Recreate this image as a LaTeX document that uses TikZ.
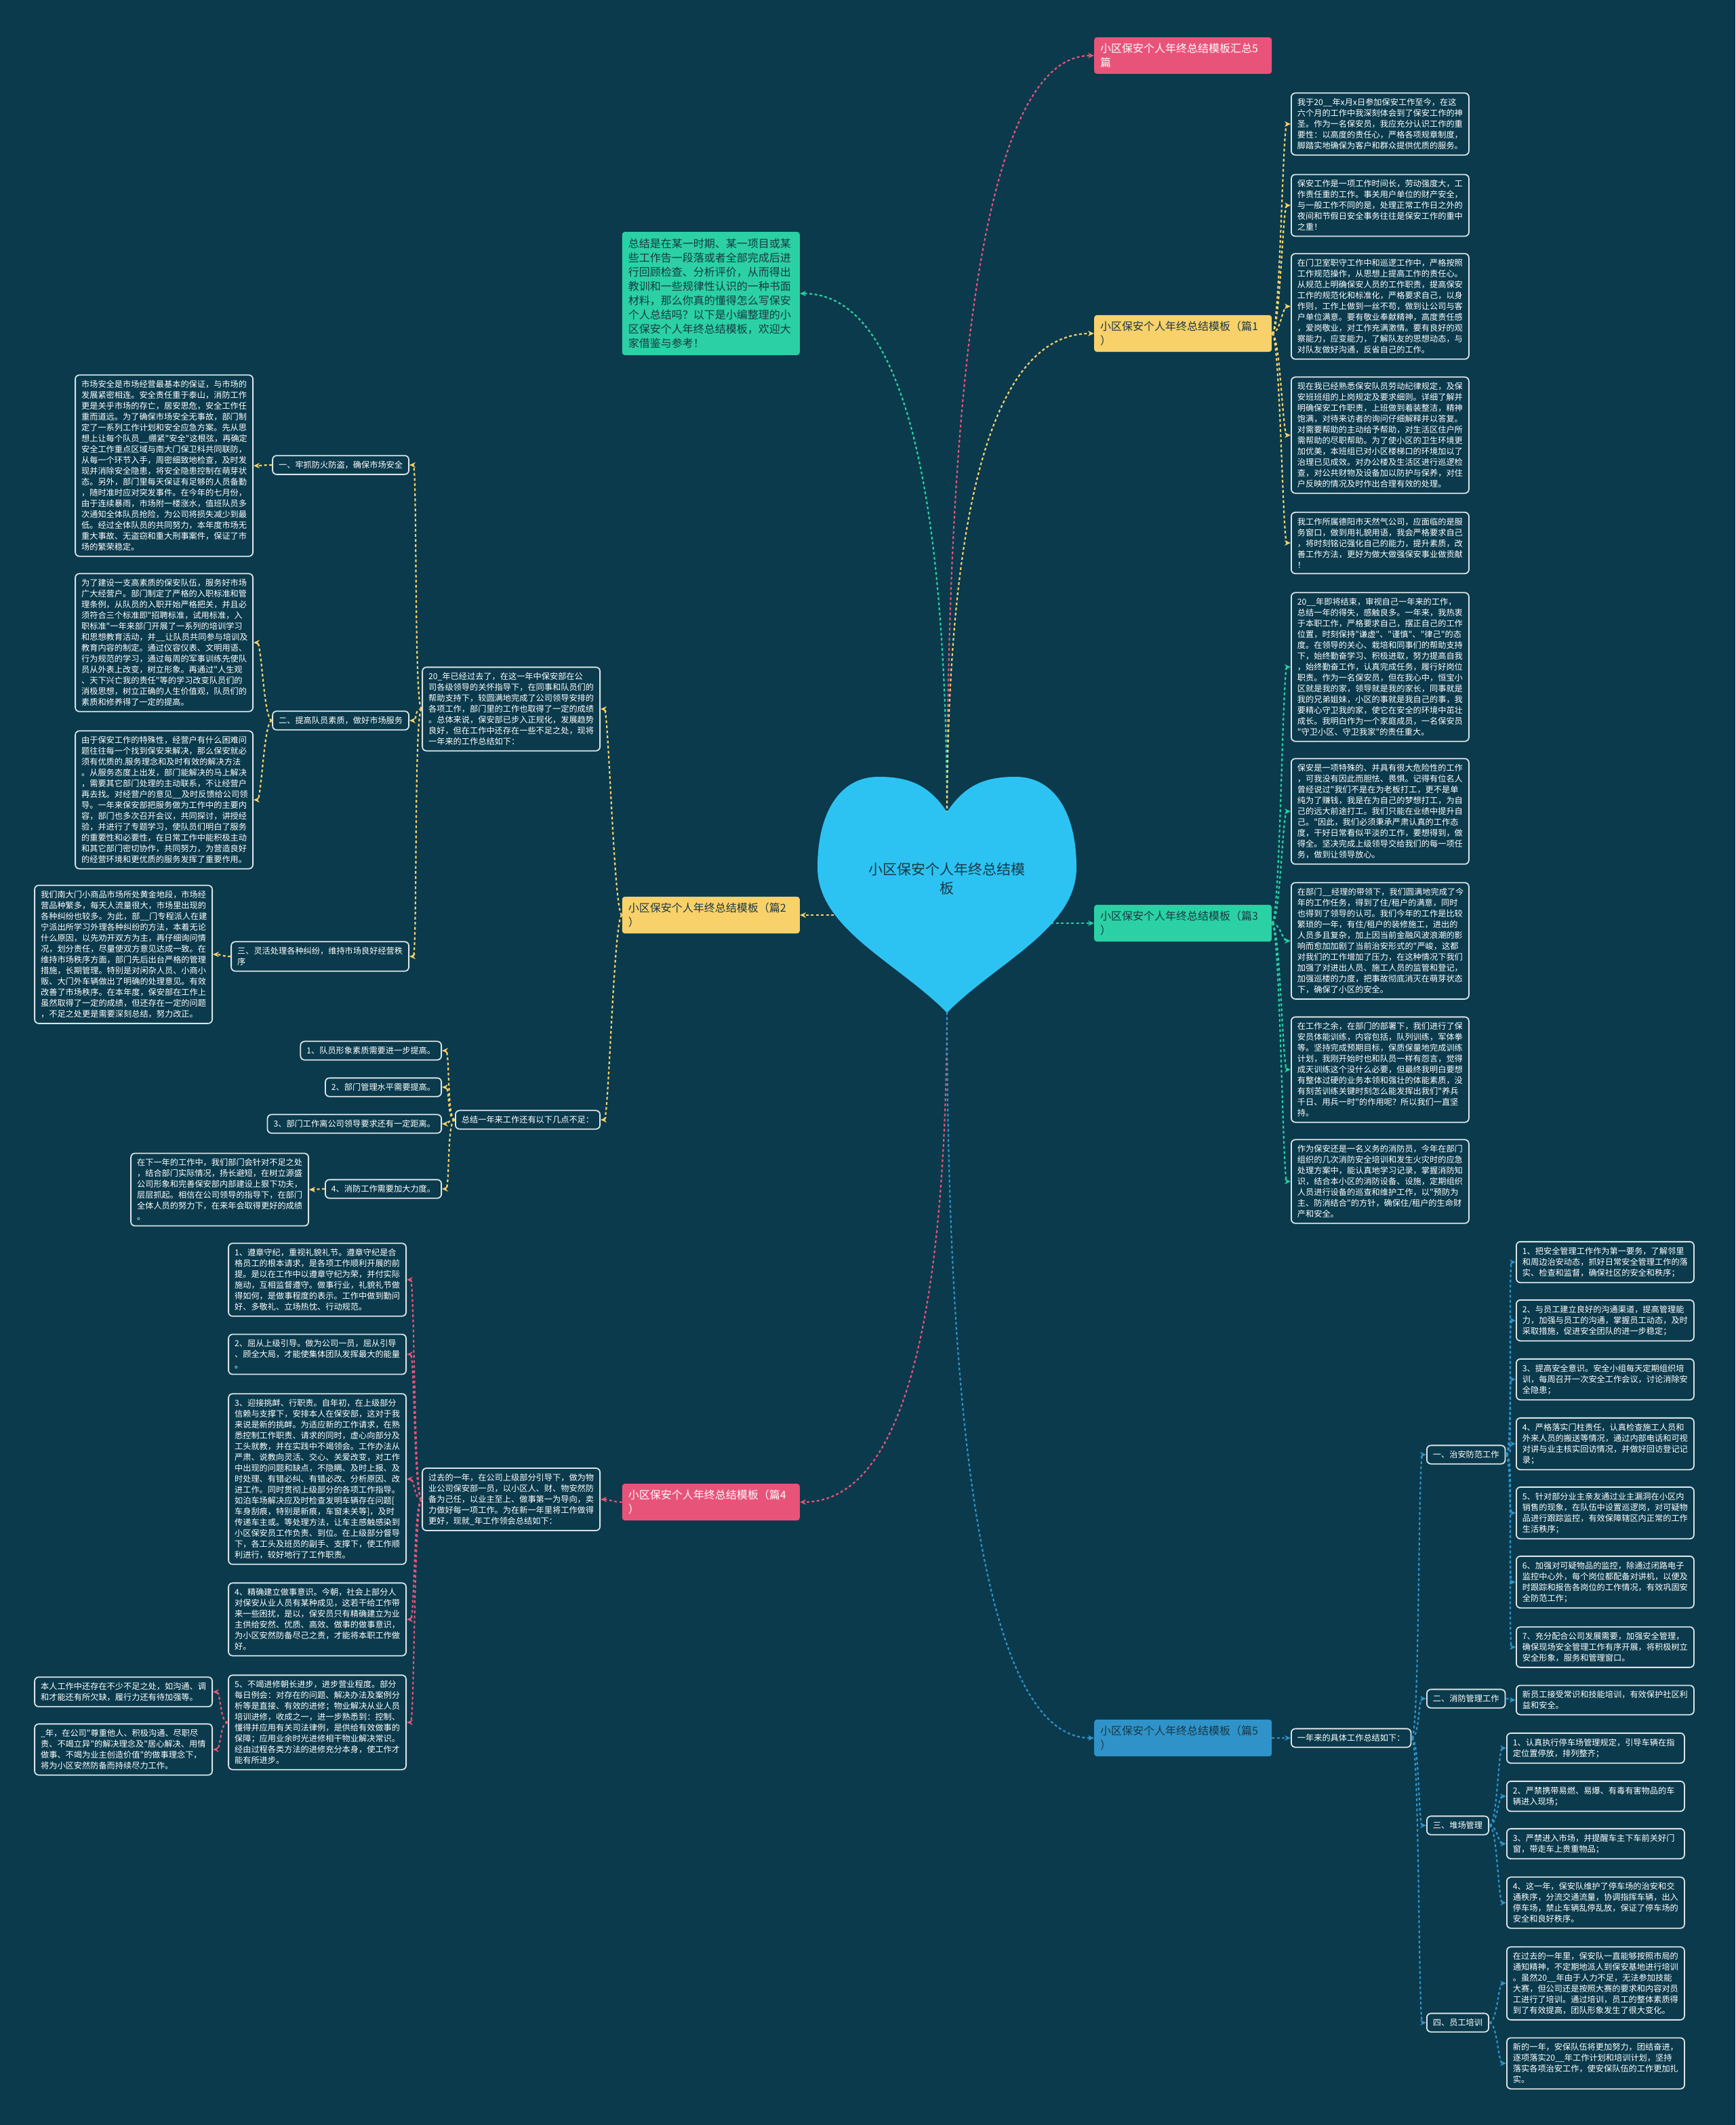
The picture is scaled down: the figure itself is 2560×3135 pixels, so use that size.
\documentclass[tikz,border=0pt]{standalone}
\usepackage{fontspec}
\newfontfamily\cjk{Noto Sans CJK SC}
\usetikzlibrary{arrows.meta,calc}
\definecolor{bg}{HTML}{0A3A4C}
\definecolor{boxline}{HTML}{DCE3E6}
\definecolor{cyel}{HTML}{F8D16A}
\definecolor{cpink}{HTML}{E8537A}
\definecolor{cgreen}{HTML}{2BD1A4}
\definecolor{cblue}{HTML}{2F93C9}
\definecolor{heartc}{HTML}{2CC3F3}
\definecolor{darktxt}{HTML}{183844}
\newcommand\qcurve[3]{\draw[con,#1] (#2) .. controls ($(#2)!0.667!(#2 |- #3)$) and ($(#3)!0.667!(#2 |- #3)$) .. (#3);}
\newcommand\rconn[3]{\draw[con,#1] (#2.east) .. controls +(12,0) and +(-12,0) .. (#3.west);}
\newcommand\lconn[3]{\draw[con,#1] (#2.west) .. controls +(-12,0) and +(12,0) .. (#3.east);}
\begin{document}
\begin{tikzpicture}[x=1pt,y=-1pt,
 box/.style={draw=boxline, line width=1.8pt, rounded corners=6pt, fill=bg, text=white, font=\cjk\fontsize{12.2}{16}\selectfont, inner xsep=9pt, inner ysep=8pt, align=left, text width=244pt},
 lab/.style={draw=boxline, line width=1.8pt, rounded corners=6pt, fill=bg, text=white, font=\cjk\fontsize{12.2}{16}\selectfont, inner xsep=9pt, inner ysep=8pt},
 ttl/.style={rounded corners=4pt, inner xsep=9pt, inner ysep=9pt, font=\cjk\fontsize{16}{21}\selectfont, text width=244pt, align=left},
 con/.style={dash pattern=on 4pt off 3.5pt, line width=2.2pt, -{Stealth[length=9pt,width=8pt]}},
]
\fill[bg] (0,0) rectangle (2560,3135);
\useasboundingbox (0,0) rectangle (2560,3135);

% heart anchor coordinates
\coordinate (hT) at (1397,1215);
\coordinate (hB) at (1397,1478);
\coordinate (hL) at (1245,1350);
\coordinate (hR) at (1550,1362);

% title nodes
\node[ttl, fill=cpink, text=white, anchor=west] (top) at (1614,82) {小区保安个人年终总结模板汇总5\\篇};
\node[ttl, fill=cyel, text=darktxt, anchor=west] (p1) at (1614,492) {小区保安个人年终总结模板（篇1\\）};
\node[ttl, fill=cgreen, text=darktxt, anchor=west] (p3) at (1614,1362) {小区保安个人年终总结模板（篇3\\）};
\node[ttl, fill=cblue, text=darktxt, anchor=west] (p5) at (1614,2564) {小区保安个人年终总结模板（篇5\\）};
\node[ttl, fill=cyel, text=darktxt, anchor=east] (p2) at (1180,1350) {小区保安个人年终总结模板（篇2\\）};
\node[ttl, fill=cpink, text=white, anchor=east] (p4) at (1180,2216) {小区保安个人年终总结模板（篇4\\）};
\node[ttl, fill=cgreen, text=darktxt, anchor=east, inner ysep=10pt] (intro) at (1180,433) {总结是在某一时期、某一项目或某\\些工作告一段落或者全部完成后进\\行回顾检查、分析评价，从而得出\\教训和一些规律性认识的一种书面\\材料，那么你真的懂得怎么写保安\\个人总结吗？以下是小编整理的小\\区保安个人年终总结模板，欢迎大\\家借鉴与参考！};

% Part 1
\node[box, anchor=west] (a1) at (1904,183) {我于20\_\_年x月x日参加保安工作至今，在这\\六个月的工作中我深刻体会到了保安工作的神\\圣。作为一名保安员，我应充分认识工作的重\\要性：以高度的责任心，严格各项规章制度，\\脚踏实地确保为客户和群众提供优质的服务。};
\node[box, anchor=west] (a2) at (1904,303) {保安工作是一项工作时间长，劳动强度大，工\\作责任重的工作。事关用户单位的财产安全，\\与一般工作不同的是，处理正常工作日之外的\\夜间和节假日安全事务往往是保安工作的重中\\之重！};
\node[box, anchor=west] (a3) at (1904,452) {在门卫室职守工作中和巡逻工作中，严格按照\\工作规范操作，从思想上提高工作的责任心。\\从规范上明确保安人员的工作职责，提高保安\\工作的规范化和标准化，严格要求自己，以身\\作则，工作上做到一丝不苟，做到让公司与客\\户单位满意。要有敬业奉献精神，高度责任感\\，爱岗敬业，对工作充满激情。要有良好的观\\察能力，应变能力，了解队友的思想动态，与\\对队友做好沟通，反省自己的工作。};
\node[box, anchor=west] (a4) at (1904,642) {现在我已经熟悉保安队员劳动纪律规定，及保\\安班班组的上岗规定及要求细则。详细了解并\\明确保安工作职责，上班做到着装整洁，精神\\饱满，对待来访者的询问仔细解释并以答复。\\对需要帮助的主动给予帮助，对生活区住户所\\需帮助的尽职帮助。为了使小区的卫生环境更\\加优美，本班组已对小区楼梯口的环境加以了\\治理已见成效。对办公楼及生活区进行巡逻检\\查，对公共财物及设备加以防护与保养，对住\\户反映的情况及时作出合理有效的处理。};
\node[box, anchor=west] (a5) at (1904,801) {我工作所属德阳市天然气公司，应面临的是服\\务窗口，做到用礼貌用语，我会严格要求自己\\，将时刻铭记强化自己的能力，提升素质，改\\善工作方法，更好为做大做强保安事业做贡献\\！};

% Part 3
\node[box, anchor=west] (c1) at (1904,984) {20\_\_年即将结束，审视自己一年来的工作，\\总结一年的得失，感触良多。一年来，我热衷\\于本职工作，严格要求自己，摆正自己的工作\\位置，时刻保持"谦虚"、"谨慎"、"律己"的态\\度。在领导的关心、栽培和同事们的帮助支持\\下，始终勤奋学习、积极进取，努力提高自我\\，始终勤奋工作，认真完成任务，履行好岗位\\职责。作为一名保安员，但在我心中，恒宝小\\区就是我的家，领导就是我的家长，同事就是\\我的兄弟姐妹，小区的事就是我自己的事，我\\要精心守卫我的家，使它在安全的环境中茁壮\\成长。我明白作为一个家庭成员，一名保安员\\"守卫小区、守卫我家"的责任重大。};
\node[box, anchor=west] (c2) at (1904,1197) {保安是一项特殊的、并具有很大危险性的工作\\，可我没有因此而胆怯、畏惧。记得有位名人\\曾经说过"我们不是在为老板打工，更不是单\\纯为了赚钱，我是在为自己的梦想打工，为自\\己的远大前途打工。我们只能在业绩中提升自\\己。"因此，我们必须秉承严肃认真的工作态\\度，干好日常看似平淡的工作，要想得到，做\\得全。坚决完成上级领导交给我们的每一项任\\务，做到让领导放心。};
\node[box, anchor=west] (c3) at (1904,1388) {在部门\_\_经理的带领下，我们圆满地完成了今\\年的工作任务，得到了住/租户的满意，同时\\也得到了领导的认可。我们今年的工作是比较\\繁琐的一年，有住/租户的装修施工，进出的\\人员多且复杂，加上因当前金融风波浪潮的影\\响而愈加加剧了当前治安形式的"严峻，这都\\对我们的工作增加了压力，在这种情况下我们\\加强了对进出人员、施工人员的监管和登记，\\加强巡楼的力度，把事故彻底消灭在萌芽状态\\下，确保了小区的安全。};
\node[box, anchor=west] (c4) at (1904,1578) {在工作之余，在部门的部署下，我们进行了保\\安员体能训练，内容包括，队列训练，军体拳\\等。坚持完成预期目标，保质保量地完成训练\\计划，我刚开始时也和队员一样有怨言，觉得\\成天训练这个没什么必要，但最终我明白要想\\有整体过硬的业务本领和强壮的体能素质，没\\有刻苦训练关键时刻怎么能发挥出我们"养兵\\千日、用兵一时"的作用呢？所以我们一直坚\\持。};
\node[box, anchor=west] (c5) at (1904,1743) {作为保安还是一名义务的消防员，今年在部门\\组织的几次消防安全培训和发生火灾时的应急\\处理方案中，能认真地学习记录，掌握消防知\\识，结合本小区的消防设备、设施，定期组织\\人员进行设备的巡查和维护工作，以"预防为\\主、防消结合"的方针，确保住/租户的生命财\\产和安全。};

% Part 5
\node[lab, anchor=west] (s5) at (1904,2564) {一年来的具体工作总结如下：};
\node[lab, anchor=west] (l51) at (2104,2146) {一、治安防范工作};
\node[lab, anchor=west] (l52) at (2104,2506) {二、消防管理工作};
\node[lab, anchor=west] (l53) at (2104,2693) {三、堆场管理};
\node[lab, anchor=west] (l54) at (2104,2984) {四、员工培训};
\node[box, anchor=west] (i511) at (2236,1862) {1、把安全管理工作作为第一要务，了解邻里\\和周边治安动态，抓好日常安全管理工作的落\\实、检查和监督，确保社区的安全和秩序；};
\node[box, anchor=west] (i512) at (2236,1948) {2、与员工建立良好的沟通渠道，提高管理能\\力，加强与员工的沟通，掌握员工动态，及时\\采取措施，促进安全团队的进一步稳定；};
\node[box, anchor=west] (i513) at (2236,2035) {3、提高安全意识。安全小组每天定期组织培\\训，每周召开一次安全工作会议，讨论消除安\\全隐患；};
\node[box, anchor=west] (i514) at (2236,2130) {4、严格落实门柱责任，认真检查施工人员和\\外来人员的搬送等情况，通过内部电话和可视\\对讲与业主核实回访情况，并做好回访登记记\\录；};
\node[box, anchor=west] (i515) at (2236,2232) {5、针对部分业主亲友通过业主漏洞在小区内\\销售的现象，在队伍中设置巡逻岗，对可疑物\\品进行跟踪监控，有效保障辖区内正常的工作\\生活秩序；};
\node[box, anchor=west] (i516) at (2236,2334) {6、加强对可疑物品的监控，除通过闭路电子\\监控中心外，每个岗位都配备对讲机，以便及\\时跟踪和报告各岗位的工作情况，有效巩固安\\全防范工作；};
\node[box, anchor=west] (i517) at (2236,2430) {7、充分配合公司发展需要，加强安全管理，\\确保现场安全管理工作有序开展，将积极树立\\安全形象，服务和管理窗口。};
\node[box, anchor=west] (i521) at (2236,2508) {新员工接受常识和技能培训，有效保护社区利\\益和安全。};
\node[box, anchor=west] (i531) at (2222,2579) {1、认真执行停车场管理规定，引导车辆在指\\定位置停放，排列整齐；};
\node[box, anchor=west] (i532) at (2222,2650) {2、严禁携带易燃、易爆、有毒有害物品的车\\辆进入现场；};
\node[box, anchor=west] (i533) at (2222,2720) {3、严禁进入市场，并提醒车主下车前关好门\\窗，带走车上贵重物品；};
\node[box, anchor=west] (i534) at (2222,2807) {4、这一年，保安队维护了停车场的治安和交\\通秩序，分流交通流量，协调指挥车辆，出入\\停车场，禁止车辆乱停乱放，保证了停车场的\\安全和良好秩序。};
\node[box, anchor=west] (i541) at (2222,2926) {在过去的一年里，保安队一直能够按照市局的\\通知精神，不定期地派人到保安基地进行培训\\。虽然20\_\_年由于人力不足，无法参加技能\\大赛，但公司还是按照大赛的要求和内容对员\\工进行了培训。通过培训，员工的整体素质得\\到了有效提高，团队形象发生了很大变化。};
\node[box, anchor=west] (i542) at (2222,3044) {新的一年，安保队伍将更加努力，团结奋进，\\逐项落实20\_\_年工作计划和培训计划，坚持\\落实各项治安工作，使安保队伍的工作更加扎\\实。};

% Part 2
\node[box, anchor=east] (s2) at (886,1046) {20\_年已经过去了，在这一年中保安部在公\\司各级领导的关怀指导下，在同事和队员们的\\帮助支持下，较圆满地完成了公司领导安排的\\各项工作，部门里的工作也取得了一定的成绩\\。总体来说，保安部已步入正规化，发展趋势\\良好，但在工作中还存在一些不足之处，现将\\一年来的工作总结如下：};
\node[lab, anchor=east] (l21) at (604,686) {一、牢抓防火防盗，确保市场安全};
\node[lab, anchor=east] (l22) at (604,1063) {二、提高队员素质，做好市场服务};
\node[box, anchor=east] (l23) at (604,1411) {三、灵活处理各种纠纷，维持市场良好经营秩\\序};
\node[box, anchor=east] (bA) at (374,687) {市场安全是市场经营最基本的保证，与市场的\\发展紧密相连。安全责任重于泰山，消防工作\\更是关乎市场的存亡，居安思危，安全工作任\\重而道远。为了确保市场安全无事故，部门制\\定了一系列工作计划和安全应急方案。先从思\\想上让每个队员\_\_绷紧"安全"这根弦，再确定\\安全工作重点区域与南大门保卫科共同联防，\\从每一个环节入手，周密细致地检查，及时发\\现并消除安全隐患，将安全隐患控制在萌芽状\\态。另外，部门里每天保证有足够的人员备勤\\，随时准时应对突发事件。在今年的七月份，\\由于连续暴雨，市场附一楼涨水，值班队员多\\次通知全体队员抢险，为公司将损失减少到最\\低。经过全体队员的共同努力，本年度市场无\\重大事故、无盗窃和重大刑事案件，保证了市\\场的繁荣稳定。};
\node[box, anchor=east] (bB) at (374,948) {为了建设一支高素质的保安队伍，服务好市场\\广大经营户。部门制定了严格的入职标准和管\\理条例，从队员的入职开始严格把关，并且必\\须符合三个标准即"招聘标准，试用标准，入\\职标准"一年来部门开展了一系列的培训学习\\和思想教育活动，并\_\_让队员共同参与培训及\\教育内容的制定。通过仪容仪表、文明用语、\\行为规范的学习，通过每周的军事训练先使队\\员从外表上改变，树立形象。再通过"人生观\\、天下兴亡我的责任"等的学习改变队员们的\\消极思想，树立正确的人生价值观，队员们的\\素质和修养得了一定的提高。};
\node[box, anchor=east] (bC) at (374,1180) {由于保安工作的特殊性，经营户有什么困难问\\题往往每一个找到保安来解决，那么保安就必\\须有优质的.服务理念和及时有效的解决方法\\。从服务态度上出发，部门能解决的马上解决\\，需要其它部门处理的主动联系，不让经营户\\再去找。对经营户的意见\_\_及时反馈给公司领\\导。一年来保安部把服务做为工作中的主要内\\容，部门也多次召开会议，共同探讨，讲授经\\验，并进行了专题学习，使队员们明白了服务\\的重要性和必要性，在日常工作中能积极主动\\和其它部门密切协作，共同努力，为营造良好\\的经营环境和更优质的服务发挥了重要作用。};
\node[box, anchor=east] (bD) at (314,1408) {我们南大门小商品市场所处黄金地段，市场经\\营品种繁多，每天人流量很大，市场里出现的\\各种纠纷也较多。为此，部\_\_门专程派人在建\\宁派出所学习外理各种纠纷的方法，本着无论\\什么原因，以先劝开双方为主，再仔细询问情\\况，划分责任，尽量使双方意见达成一致。在\\维持市场秩序方面，部门先后出台严格的管理\\措施，长期管理。特别是对闲杂人员、小商小\\贩、大门外车辆做出了明确的处理意见。有效\\改善了市场秩序。在本年度，保安部在工作上\\虽然取得了一定的成绩，但还存在一定的问题\\，不足之处更是需要深刻总结，努力改正。};
\node[lab, anchor=east] (n2) at (886,1652) {总结一年来工作还有以下几点不足：};
\node[lab, anchor=east] (j1) at (652,1550) {1、队员形象素质需要进一步提高。};
\node[lab, anchor=east] (j2) at (652,1604) {2、部门管理水平需要提高。};
\node[lab, anchor=east] (j3) at (652,1658) {3、部门工作离公司领导要求还有一定距离。};
\node[lab, anchor=east] (j4) at (652,1754) {4、消防工作需要加大力度。};
\node[box, anchor=east] (bE) at (456,1755) {在下一年的工作中，我们部门会针对不足之处\\，结合部门实际情况，扬长避短，在树立源盛\\公司形象和完善保安部内部建设上狠下功夫，\\层层抓起。相信在公司领导的指导下，在部门\\全体人员的努力下，在来年会取得更好的成绩\\。};

% Part 4
\node[box, anchor=east] (s4) at (886,2212) {过去的一年，在公司上级部分引导下，做为物\\业公司保安部一员，以小区人、财、物安然防\\备为己任，以业主至上、做事第一为导向，卖\\力做好每一项工作。为在新一年里将工作做得\\更好，现就\_年工作领会总结如下：};
\node[box, anchor=east] (k1) at (600,1888) {1、遵章守纪，重视礼貌礼节。遵章守纪是合\\格员工的根本请求，是各项工作顺利开展的前\\提。是以在工作中以遵章守纪为荣，并付实际\\施动，互相监督遵守。做事行业，礼貌礼节做\\得如何，是做事程度的表示。工作中做到勤问\\好、多敬礼、立场热忱、行动规范。};
\node[box, anchor=east] (k2) at (600,1998) {2、屈从上级引导。做为公司一员，屈从引导\\、顾全大局，才能使集体团队发挥最大的能量\\。};
\node[box, anchor=east] (k3) at (600,2182) {3、迎接挑衅、行职责。自年初，在上级部分\\信赖与支撑下，安排本人在保安部，这对于我\\来说是新的挑衅。为适应新的工作请求，在熟\\悉控制工作职责、请求的同时，虚心向部分及\\工头就教，并在实践中不竭领会。工作办法从\\严肃、说教向灵活、交心、关爱改变，对工作\\中出现的问题和缺点，不隐瞒、及时上报、及\\时处理、有错必纠、有错必改、分析原因、改\\进工作。同时贯彻上级部分的各项工作指导。\\如泊车场解决应及时检查发明车辆存在问题[\\车身刮痕，特别是新痕，车窗未关等]，及时\\传递车主或。等处理方法，让车主感触感染到\\小区保安员工作负责、到位。在上级部分督导\\下，各工头及班员的副手、支撑下，使工作顺\\利进行，较好地行了工作职责。};
\node[box, anchor=east] (k4) at (600,2389) {4、精确建立做事意识。今朝，社会上部分人\\对保安从业人员有某种成见，这若干给工作带\\来一些困扰，是以，保安员只有精确建立为业\\主供给安然、优质、高效、做事的做事意识，\\为小区安然防备尽己之责，才能将本职工作做\\好。};
\node[box, anchor=east] (k5) at (600,2541) {5、不竭进修朝长进步，进步营业程度。部分\\每日例会：对存在的问题、解决办法及案例分\\析等是直接、有效的进修；物业解决从业人员\\培训进修，收成之一，进一步熟悉到：控制、\\懂得并应用有关司法律例，是供给有效做事的\\保障；应用业余时光进修相干物业解决常识。\\经由过程各类方法的进修充分本身，使工作才\\能有所进步。};
\node[box, anchor=east] (m1) at (314,2496) {本人工作中还存在不少不足之处，如沟通、调\\和才能还有所欠缺，履行力还有待加强等。};
\node[box, anchor=east] (m2) at (314,2581) {\_年，在公司"尊重他人、积极沟通、尽职尽\\责、不竭立异"的解决理念及"居心解决、用情\\做事、不竭为业主创造价值"的做事理念下，\\将为小区安然防备而持续尽力工作。};

% main branches
\qcurve{cpink}{hT}{top.west}
\qcurve{cgreen}{hT}{intro.east}
\qcurve{cyel}{hT}{p1.west}
\draw[con,cyel] (hL) -- (p2.east);
\draw[con,cgreen] (hR) -- (p3.west);
\qcurve{cpink}{hB}{p4.east}
\qcurve{cblue}{hB}{p5.west}

% part 1
\foreach \t in {a1,a2,a3,a4,a5} {\rconn{cyel}{p1}{\t}}
% part 3
\foreach \t in {c1,c2,c3,c4,c5} {\rconn{cgreen}{p3}{\t}}
% part 5
\rconn{cblue}{p5}{s5}
\foreach \t in {l51,l52,l53,l54} {\rconn{cblue}{s5}{\t}}
\foreach \t in {i511,i512,i513,i514,i515,i516,i517} {\rconn{cblue}{l51}{\t}}
\rconn{cblue}{l52}{i521}
\foreach \t in {i531,i532,i533,i534} {\rconn{cblue}{l53}{\t}}
\foreach \t in {i541,i542} {\rconn{cblue}{l54}{\t}}
% part 2
\lconn{cyel}{p2}{s2}
\lconn{cyel}{p2}{n2}
\foreach \t in {l21,l22,l23} {\lconn{cyel}{s2}{\t}}
\lconn{cyel}{l21}{bA}
\lconn{cyel}{l22}{bB}
\lconn{cyel}{l22}{bC}
\lconn{cyel}{l23}{bD}
\foreach \t in {j1,j2,j3,j4} {\lconn{cyel}{n2}{\t}}
\lconn{cyel}{j4}{bE}
% part 4
\lconn{cpink}{p4}{s4}
\foreach \t in {k1,k2,k3,k4,k5} {\lconn{cpink}{s4}{\t}}
\lconn{cpink}{k5}{m1}
\lconn{cpink}{k5}{m2}

% heart
\fill[heartc] (1397,1198) .. controls (1425,1155) and (1458,1146) .. (1498,1146) .. controls (1556,1146) and (1588,1200) .. (1588,1280) .. controls (1588,1370) and (1470,1420) .. (1397,1494) .. controls (1324,1420) and (1206,1370) .. (1206,1280) .. controls (1206,1200) and (1238,1146) .. (1296,1146) .. controls (1336,1146) and (1369,1155) .. (1397,1198) -- cycle;
\node[font=\cjk\fontsize{21}{28}\selectfont, text=darktxt, align=center] (center) at (1397,1296) {小区保安个人年终总结模\\板};
\end{tikzpicture}
\end{document}
